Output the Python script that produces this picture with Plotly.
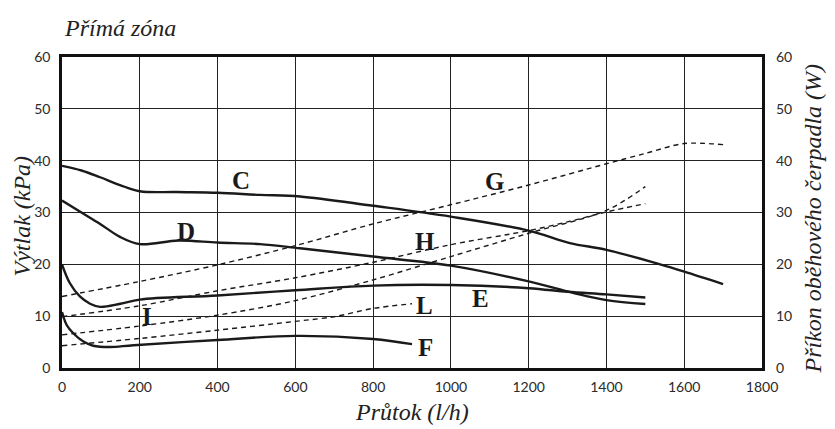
import plotly.graph_objects as go

# Pressure curves (left axis, kPa) - solid
c_x = [0, 50, 98, 149, 200, 295, 400, 509, 612, 800, 1000, 1200, 1306, 1400, 1538, 1600, 1700]
c_y = [39.0, 38.1, 36.8, 35.3, 34.1, 33.95, 33.8, 33.4, 33.1, 31.3, 29.2, 26.5, 24.1, 22.8, 20.0, 18.6, 16.2]

d_x = [0, 50, 98, 149, 200, 300, 400, 509, 612, 800, 1000, 1200, 1314, 1400, 1500]
d_y = [32.3, 30.0, 27.8, 25.3, 23.9, 24.6, 24.2, 23.9, 23.1, 21.5, 19.75, 16.7, 14.5, 13.1, 12.35]

e_x = [0, 20, 46, 72, 98, 150, 200, 400, 600, 800, 1000, 1200, 1300, 1400, 1500]
e_y = [20.0, 16.4, 13.8, 12.4, 11.8, 12.4, 13.2, 14.0, 15.0, 15.9, 16.0, 15.4, 14.7, 14.2, 13.6]

f_x = [0, 12, 29, 55, 80, 123, 184, 400, 600, 800, 900]
f_y = [10.8, 8.3, 6.7, 5.1, 4.3, 4.05, 4.4, 5.4, 6.2, 5.6, 4.6]

# Power curves (right axis, W) - dashed
g_x = [0, 200, 400, 600, 800, 1000, 1200, 1400, 1500, 1600, 1700]
g_y = [13.8, 16.7, 19.9, 23.6, 27.8, 31.5, 35.3, 39.4, 41.4, 43.3, 43.1]

h_x = [0, 200, 400, 600, 800, 1000, 1200, 1300, 1400, 1500]
h_y = [9.9, 12.0, 14.9, 17.4, 20.4, 23.8, 26.5, 28.2, 30.1, 31.7]

i_x = [0, 200, 400, 600, 800, 1000, 1200, 1400, 1500]
i_y = [6.4, 8.1, 10.2, 13.0, 17.0, 21.5, 26.0, 30.4, 35.0]

l_x = [0, 200, 400, 600, 700, 800, 900]
l_y = [4.3, 5.7, 7.3, 9.0, 9.9, 11.5, 12.4]

labels = ["C", "D", "E", "F", "G", "H", "I", "L"]
label_x = [460, 319, 1077, 934, 1111, 933, 219, 931]
label_y = [36.1, 26.3, 13.5, 4.05, 35.9, 24.5, 10.0, 12.0]

x_ticks = [0, 200, 400, 600, 800, 1000, 1200, 1400, 1600, 1800]
y_ticks = [0, 10, 20, 30, 40, 50, 60]

fig = go.Figure()

solid = [(c_x, c_y), (d_x, d_y), (e_x, e_y), (f_x, f_y)]
for xs, ys in solid:
    fig.add_trace(go.Scatter(x=xs, y=ys, mode="lines",
                             line=dict(color="#1a1a1a", width=2.4, shape="spline", smoothing=1.0),
                             showlegend=False, hoverinfo="skip"))

dashed = [(g_x, g_y), (h_x, h_y), (i_x, i_y), (l_x, l_y)]
for xs, ys in dashed:
    fig.add_trace(go.Scatter(x=xs, y=ys, mode="lines", yaxis="y2",
                             line=dict(color="#1a1a1a", width=1.4, dash="5px,4px",
                                       shape="spline", smoothing=0.9),
                             showlegend=False, hoverinfo="skip"))

for t, lx, ly in zip(labels, label_x, label_y):
    fig.add_annotation(x=lx, y=ly, text="<b>" + t + "</b>", showarrow=False,
                       font=dict(family="Liberation Serif", size=25, color="#1a1a1a"))

titlefont = dict(family="Liberation Serif", size=24, color="#222")

fig.add_annotation(xref="paper", yref="paper", x=0.0, y=1.0, yshift=29,
                   xanchor="left", yanchor="middle", showarrow=False,
                   text="<i>Přímá zóna</i>", font=titlefont)
# axis titles (placed relative to the plot area)
fig.add_annotation(xref="paper", yref="paper", x=0.5, y=0.0, yshift=-44,
                   xanchor="center", yanchor="middle", showarrow=False,
                   text="<i>Průtok (l/h)</i>", font=titlefont)
fig.add_annotation(xref="paper", yref="paper", x=0.0, y=0.5, xshift=-41, yshift=-4,
                   xanchor="center", yanchor="middle", showarrow=False, textangle=-90,
                   text="<i>Výtlak (kPa)</i>", font=titlefont)
fig.add_annotation(xref="paper", yref="paper", x=1.0, y=0.5, xshift=50, yshift=-6,
                   xanchor="center", yanchor="middle", showarrow=False, textangle=-90,
                   text="<i>Příkon oběhového čerpadla (W)</i>", font=titlefont)

tickfont = dict(family="Lato", size=14, color="#2a2a2a")

fig.update_layout(
    width=835, height=429,
    margin=dict(l=62, r=73, t=57, b=61, autoexpand=False),
    paper_bgcolor="white", plot_bgcolor="white",
    xaxis=dict(range=[0, 1800], tickvals=x_ticks, showgrid=True, gridcolor="#222", gridwidth=1,
               zeroline=False, showline=True, linecolor="#111", linewidth=2.5, mirror=True,
               tickfont=tickfont, ticks="", ticklabelstandoff=4, automargin=False),
    yaxis=dict(range=[0, 60], tickvals=y_ticks, showgrid=True, gridcolor="#222", gridwidth=1,
               zeroline=False, showline=True, linecolor="#111", linewidth=2.5, mirror=True,
               tickfont=tickfont, ticks="", ticklabelstandoff=6, automargin=False),
    yaxis2=dict(range=[0, 60], tickvals=y_ticks, overlaying="y", side="right", showgrid=False,
                zeroline=False, tickfont=tickfont, ticks="", ticklabelstandoff=13, automargin=False),
)

fig.write_html("out.html")
